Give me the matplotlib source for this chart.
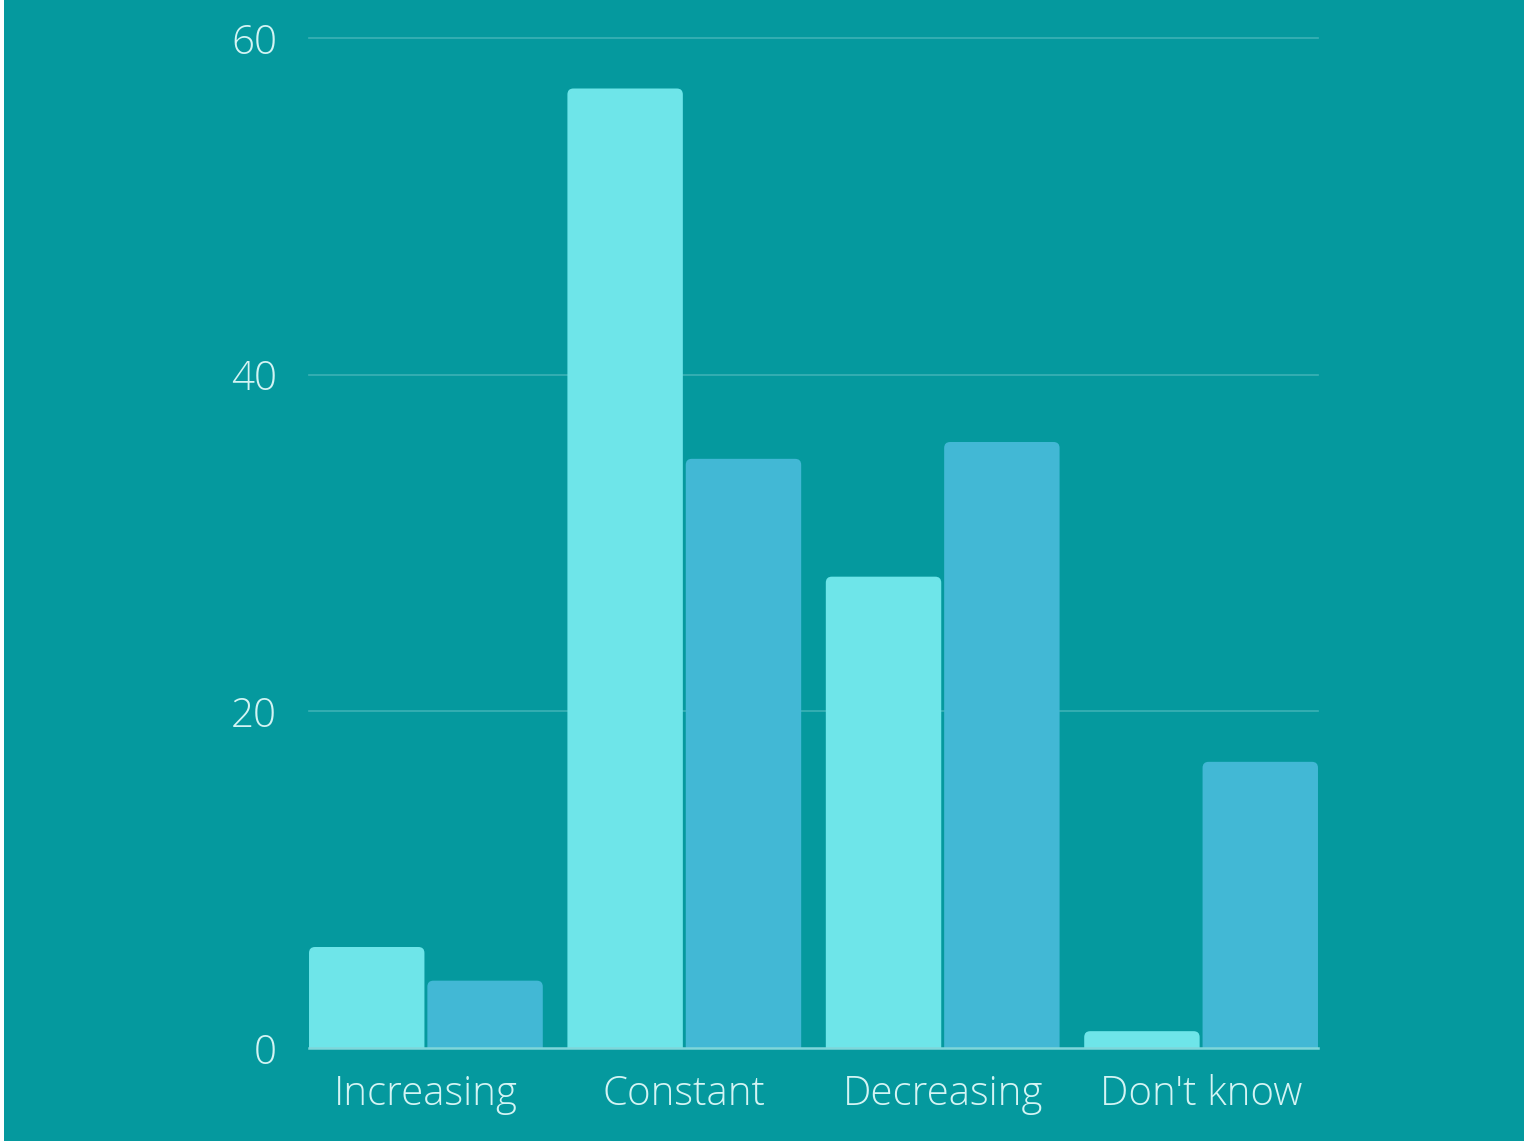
import matplotlib
matplotlib.use('Agg')
from matplotlib import pyplot as plt
from matplotlib.patches import FancyBboxPatch, Rectangle
import numpy as np

categories = ['Increasing', 'Constant', 'Decreasing', "Don't know"]
series_a = [6, 57, 28, 1]
series_b = [4, 35, 36, 17]
yticks = [0, 20, 40, 60]

bg = '#05999e'
light = '#6ee5e9'
dark = '#42b8d5'
textcol = '#d4f4f4'

plt.rcParams['font.family'] = ['Open Sans', 'DejaVu Sans']

fig = plt.figure(figsize=(15.24, 11.41), dpi=100, facecolor=bg)
fig.patches.append(Rectangle((0, 0), 4 / 1524, 1, transform=fig.transFigure,
                             facecolor='white', edgecolor='none'))
ax = fig.add_axes([309 / 1524, 1 - 1048 / 1141, 1009 / 1524, 1010 / 1141])
ax.set_facecolor(bg)

x = np.arange(len(categories))
w = 0.4467
off = 0.229
bars = []
bars += list(ax.bar(x - off, series_a, width=w, color=light, zorder=3))
bars += list(ax.bar(x + off, series_b, width=w, color=dark, zorder=3))

ax.set_xlim(-0.4524, 3.4524)
ax.set_ylim(0, 60)

# swap the plain bars for ones with rounded tops
fig.canvas.draw()
px_x = (ax.transData.transform((1, 0))[0] - ax.transData.transform((0, 0))[0])
px_y = (ax.transData.transform((0, 1))[1] - ax.transData.transform((0, 0))[1])
r = 6 / px_x
for b in bars:
    x0, h, bw = b.get_x(), b.get_height(), b.get_width()
    p = FancyBboxPatch((x0, -1), bw, h + 1,
                       boxstyle='round,pad=0,rounding_size=%f' % r,
                       mutation_aspect=px_x / px_y,
                       facecolor=b.get_facecolor(), edgecolor='none', zorder=3)
    b.remove()
    ax.add_patch(p)

for t in yticks[1:]:
    ax.axhline(t, color='#3cb2b6', lw=1.2, zorder=1, clip_on=False)
ax.axhline(0, color='#7fd6da', lw=1.8, zorder=4, clip_on=False)

for s in ax.spines.values():
    s.set_visible(False)
ax.set_yticks(yticks)
ax.set_xticks(x)
ax.set_xticklabels(categories)
ax.tick_params(axis='both', length=0, colors=textcol, labelsize=29)
ax.tick_params(axis='y', pad=23)
ax.tick_params(axis='x', pad=19)
for lab in ax.get_xticklabels() + ax.get_yticklabels():
    lab.set_fontweight('light')

fig.savefig('out.png', dpi=100, facecolor=bg)
